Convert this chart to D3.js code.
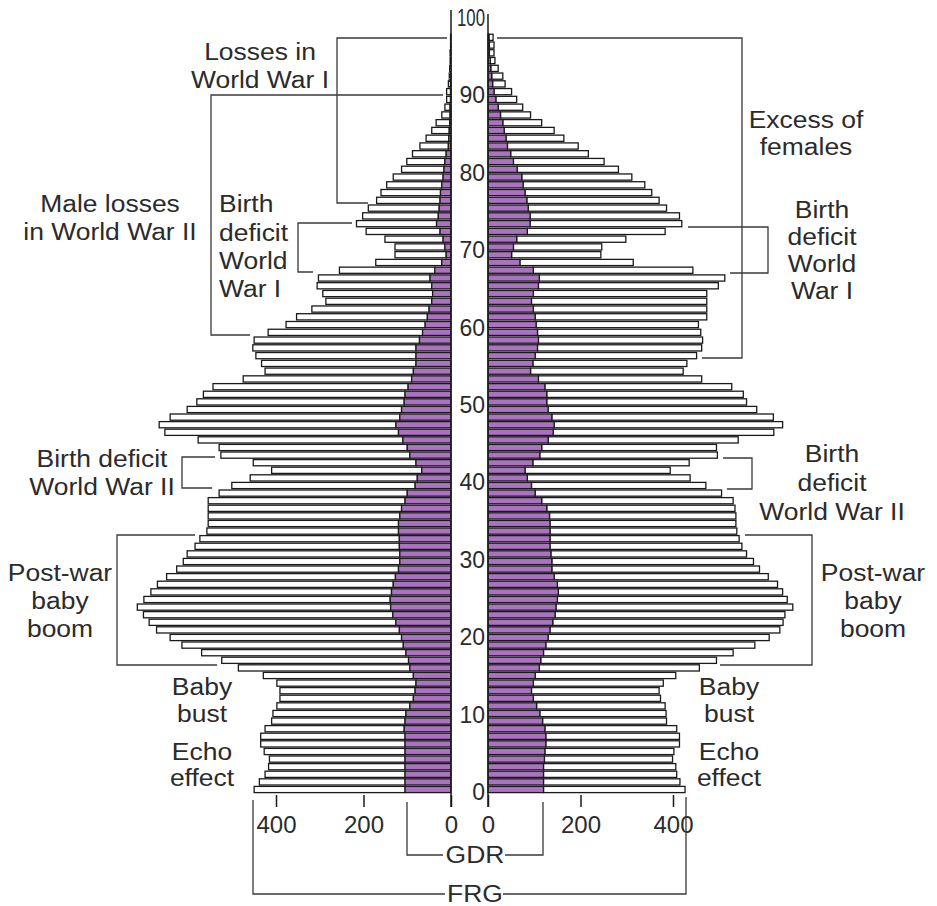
<!DOCTYPE html>
<html><head><meta charset="utf-8">
<script src="https://cdn.jsdelivr.net/npm/d3@7"></script>
<style>
body{margin:0;background:#fff}
svg{display:block}
text{font-family:"Liberation Sans",Arial,Helvetica,sans-serif;fill:#2b2b2b}
</style>
</head><body><svg id="c" width="937" height="906"></svg>
<script>
// ---- data (thousands), ages 0..98 ----
const ages = d3.range(0, 99);
const maleGDR = [105,105,105,105,105,105,105,105,107,105,
103,94,86,82,80,86,94,97,103,109,
113,118,126,133,138,139,136,132,127,120,
117,117,118,118,120,120,117,113,105,100,
82,77,67,80,94,100,110,120,126,117,
113,107,105,98,90,86,80,80,80,72,
65,59,54,50,44,42,44,48,37,21,
11,14,18,25,33,29,27,25,24,21,
18,16,14,11,6,5,4,3,2,2,
1,1,1,1,0,0,0,0,0];
const maleFRG = [345,333,320,312,310,322,330,330,318,305,
304,304,305,309,318,343,392,427,467,506,
529,555,564,570,579,563,550,539,523,507,
495,486,467,456,438,435,438,442,450,430,
419,382,343,372,432,430,468,534,541,525,
490,474,461,446,385,339,353,366,373,378,
353,318,299,268,242,251,262,255,218,151,
117,114,133,169,183,173,162,145,136,126,
114,97,87,77,65,52,40,31,19,12,
9,9,5,3,3,2,2,1,1];
const femaleGDR = [120,120,120,120,122,123,125,125,123,118,
112,105,98,94,98,102,111,114,120,125,
130,134,140,145,147,150,152,150,143,138,
138,136,134,134,134,134,133,127,116,102,
94,85,80,97,112,116,130,141,143,138,
130,127,127,123,109,92,97,102,107,109,
107,104,102,98,94,98,109,111,98,69,
51,55,62,85,91,91,87,84,80,76,
73,63,55,49,42,39,35,32,27,22,
17,13,10,8,6,5,3,3,2];
const femaleFRG = [306,295,288,286,277,279,289,289,285,268,
273,278,275,276,281,304,346,380,410,452,
478,497,498,497,512,497,485,476,463,449,
436,423,415,409,404,402,403,407,414,403,
377,352,314,338,384,378,411,477,494,479,
451,432,425,404,353,330,333,349,355,355,
353,351,371,375,379,375,389,401,345,245,
193,191,236,298,328,323,299,286,274,263,
238,219,196,168,153,125,108,84,65,53,
45,38,27,24,16,10,10,10,9];
const ageTicks = [0,10,20,30,40,50,60,70,80,90,100];
const valueTicks = [0,200,400];

// ---- scales ----
const svg = d3.select("#c");
const y = d3.scaleLinear().domain([0,53,98]).range([789.5,386.7,37.3]);
const yLab = d3.scaleLinear().domain([0,100]).range([792,18]);
const xL = d3.scaleLinear().domain([0,400]).range([451,276]);
const xR = d3.scaleLinear().domain([0,400]).range([488,673]);
const barH = 6.2;
const PURPLE = "#aa72c0", INK = "#1a1a1a", LINE = "#3a3a3a";

const stack = d3.stack().keys(["gdr","frg"]);
const maleRows = ages.map((a,i)=>({age:a, gdr:maleGDR[i], frg:maleFRG[i]}));
const femaleRows = ages.map((a,i)=>({age:a, gdr:femaleGDR[i], frg:femaleFRG[i]}));

function drawSide(rows, xs, left){
  const layers = stack(rows);
  const g = svg.append("g");
  [layers[1], layers[0]].forEach(layer=>{
    const isGDR = layer.key === "gdr";
    g.selectAll(null).data(layer.filter(d=>d[1]-d[0]>0)).join("rect")
      .attr("x", d=> left ? xs(d[1]) : xs(d[0]))
      .attr("width", d=> Math.abs(xs(d[1]) - xs(d[0])))
      .attr("y", d=> y(d.data.age) - barH/2)
      .attr("height", barH)
      .attr("fill", isGDR ? PURPLE : "#fff")
      .attr("stroke", INK).attr("stroke-width", 1.3);
  });
}
drawSide(maleRows, xL, true);
drawSide(femaleRows, xR, false);

// ---- axes ----
svg.append("line").attr("x1",xL(0)).attr("x2",xL(0)).attr("y1",10).attr("y2",807).attr("stroke",INK).attr("stroke-width",1.5);
svg.append("line").attr("x1",xR(0)).attr("x2",xR(0)).attr("y1",14).attr("y2",807).attr("stroke",INK).attr("stroke-width",1.5);

const axL = d3.axisBottom(xL).tickValues(valueTicks).tickSize(12).tickFormat(d3.format("d"));
const axR = d3.axisBottom(xR).tickValues(valueTicks).tickSize(12).tickFormat(d3.format("d"));
[axL, axR].forEach(ax=>{
  const g = svg.append("g").attr("transform","translate(0,795)").call(ax);
  g.select(".domain").remove();
  g.selectAll(".tick line").attr("stroke",INK).attr("stroke-width",1.5);
  g.selectAll(".tick text").attr("y",38).attr("dy",null)
    .style("font-size","24px").attr("fill","#2b2b2b");
});

// age labels
svg.append("g").selectAll("text").data(ageTicks).join("text")
  .attr("x",485).attr("y",d=>yLab(d)+8)
  .attr("text-anchor","end").style("font-size","23px")
  .text(d=>d)
  .each(function(d){ if(d===100){ d3.select(this).attr("textLength",28).attr("lengthAdjust","spacingAndGlyphs"); } });

// ---- annotations ----
const brackets = [
  [[447,38],[337,38],[337,203],[368,203]],
  [[443,95],[211,95],[211,335],[250,335]],
  [[352,223],[298,223],[298,272],[313,272]],
  [[215,457],[182,457],[182,488],[212,488]],
  [[195,535],[117,535],[117,665],[217,665]],
  [[497,38],[742,38],[742,358],[702,358]],
  [[688,227],[768,227],[768,273],[730,273]],
  [[723,458],[752,458],[752,489],[727,489]],
  [[745,535],[812,535],[812,665],[720,665]],
  [[407,802],[407,855],[443,855]],
  [[505,855],[543,855],[543,802]],
  [[253,800],[253,894],[445,894]],
  [[503,894],[686,894],[686,797]]
];
svg.append("g").selectAll("path").data(brackets).join("path")
  .attr("d", d3.line()).attr("fill","none").attr("stroke",LINE).attr("stroke-width",1.3);

const labels = [
  {x:260, y:[60,88], a:"middle", t:["Losses in","World War I"]},
  {x:110, y:[212,240], a:"middle", t:["Male losses","in World War II"]},
  {x:219, y:[212,241,269,297], a:"start", t:["Birth","deficit","World","War I"]},
  {x:102, y:[467,495], a:"middle", t:["Birth deficit","World War II"]},
  {x:60, y:[581,609,637], a:"middle", t:["Post-war","baby","boom"]},
  {x:202, y:[695,722,760,786], a:"middle", t:["Baby","bust","Echo","effect"]},
  {x:806, y:[128,155], a:"middle", t:["Excess of","females"]},
  {x:822, y:[218,245,272,299], a:"middle", t:["Birth","deficit","World","War I"]},
  {x:832, y:[462,491,520], a:"middle", t:["Birth","deficit","World War II"]},
  {x:873, y:[581,609,637], a:"middle", t:["Post-war","baby","boom"]},
  {x:729, y:[695,722,760,786], a:"middle", t:["Baby","bust","Echo","effect"]},
  {x:475, y:[863], a:"middle", t:["GDR"]},
  {x:475, y:[902], a:"middle", t:["FRG"]}
];
const lg = svg.append("g");
labels.forEach(l=>{
  l.t.forEach((s,i)=>{
    lg.append("text").attr("transform",`translate(${l.x},${l.y[i]}) scale(1.08,1)`)
      .attr("text-anchor",l.a)
      .style("font-size","24.5px").text(s);
  });
});
</script>
</body></html>
